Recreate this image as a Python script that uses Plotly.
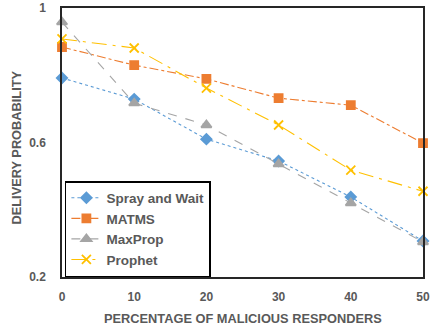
import plotly.graph_objects as go

x_vals = [0, 10, 20, 30, 40, 50]
spray_wait = [0.792, 0.729, 0.610, 0.545, 0.438, 0.307]
matms = [0.884, 0.830, 0.789, 0.732, 0.711, 0.598]
maxprop = [0.958, 0.717, 0.652, 0.536, 0.420, 0.304]
prophet = [0.908, 0.881, 0.762, 0.652, 0.518, 0.455]

series = [
    ("Spray and Wait", spray_wait, "#5B9BD5", "dot", "diamond", 8),
    ("MATMS", matms, "#ED7D31", "dashdot", "square", 8),
    ("MaxProp", maxprop, "#A5A5A5", "dash", "triangle-up", 9),
    ("Prophet", prophet, "#FFC000", "longdashdot", "x-thin-open", 9),
]

narrow = "Liberation Sans Narrow, Arial Narrow, Liberation Sans, sans-serif"
wide = "Liberation Sans, Arial, sans-serif"
grey = "#595959"

fig = go.Figure()
for name, ys, color, dash, sym, size in series:
    fig.add_trace(go.Scatter(
        x=x_vals, y=ys, name=name, mode="lines+markers",
        line=dict(color=color, width=1.1, dash=dash),
        marker=dict(symbol=sym, size=size, color=color,
                    line=dict(color=color, width=1.8)),
        cliponaxis=False,
    ))

title_font = dict(family=narrow, size=12.8, color=grey, weight="bold")

fig.update_layout(
    width=433, height=331,
    margin=dict(l=62, r=10, t=8, b=54, autoexpand=False),
    paper_bgcolor="white", plot_bgcolor="white",
    font=dict(family=narrow, color=grey, size=12),
    showlegend=True,
    legend=dict(
        x=0.008, y=0.0, xanchor="left", yanchor="bottom",
        bordercolor="black", borderwidth=1.5, bgcolor="white",
        font=dict(family=narrow, size=13.5, color=grey, weight="bold"),
        itemwidth=30,
    ),
    xaxis=dict(
        range=[0, 50], tickvals=[0, 10, 20, 30, 40, 50],
        showgrid=False, zeroline=False, automargin=False,
        showline=True, mirror=True, linecolor="#262626", linewidth=1.5,
        ticks="", ticklabelstandoff=8,
        tickfont=dict(family=wide, size=12, color=grey, weight="bold"),
    ),
    yaxis=dict(
        range=[0.2, 1.0], tickvals=[0.2, 0.6, 1.0], ticktext=["0.2", "0.6", "1"],
        showgrid=False, zeroline=False, automargin=False,
        showline=True, mirror=True, linecolor="#262626", linewidth=1.5,
        ticks="", ticklabelstandoff=12,
        tickfont=dict(family=wide, size=12, color=grey, weight="bold"),
    ),
    annotations=[
        dict(text="PERCENTAGE OF MALICIOUS RESPONDERS", xref="paper", yref="paper",
             x=0.5, y=0, yshift=-41, xanchor="center", yanchor="middle",
             showarrow=False, font=title_font),
        dict(text="DELIVERY PROBABILITY", xref="paper", yref="paper",
             x=0, y=0.5, xshift=-46, yshift=-5, xanchor="center", yanchor="middle",
             textangle=-90, showarrow=False, font=title_font),
    ],
)

fig.write_html("out.html")
